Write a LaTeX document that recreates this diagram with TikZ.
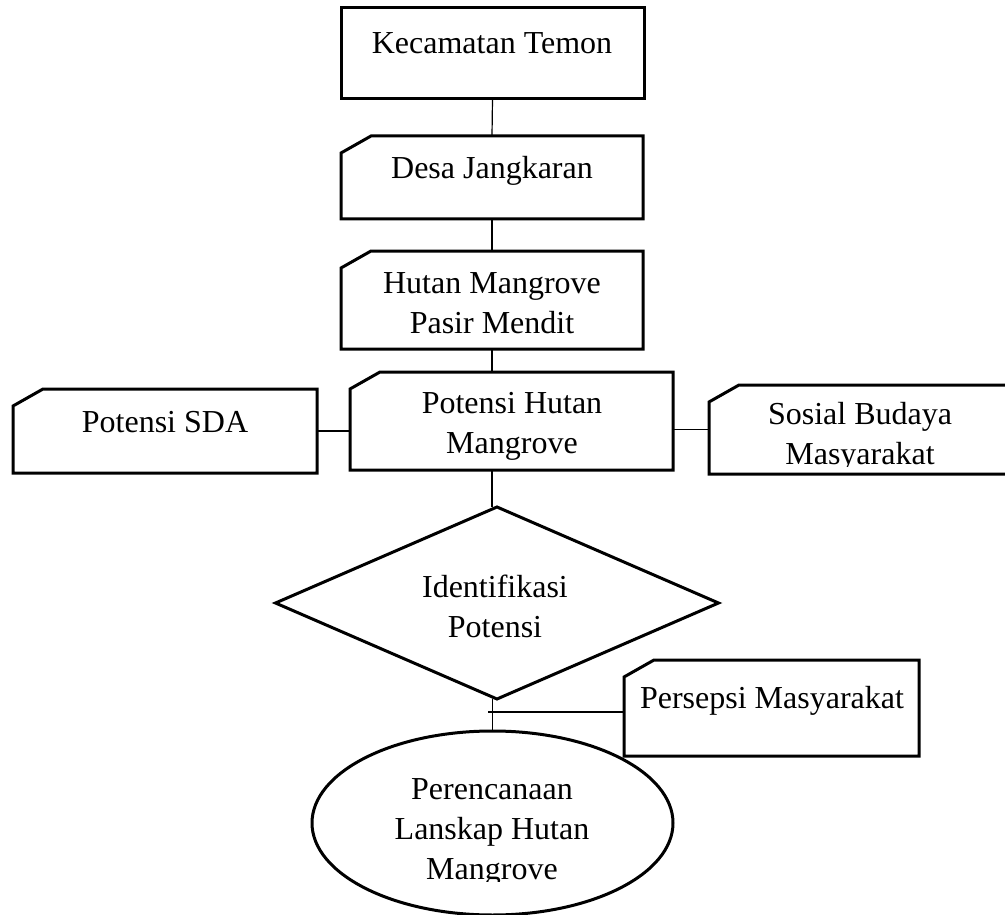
\documentclass[tikz,border=0pt]{standalone}
\usepackage{fontspec}
\setmainfont{Liberation Serif}
\usetikzlibrary{shapes.geometric}
\tikzset{
  shapeline/.style={line width=3pt, line join=miter},
  conn/.style={line width=1.2pt},
  boxarea/.style={rectangle, inner sep=0pt, outer sep=0pt},
  lbl/.style={anchor=base, align=center, inner sep=0pt, font=\fontsize{32}{40}\selectfont},
}
\newcommand\cutoutline[1]{\draw[shapeline] ([yshift=-17pt]#1.north west) -- ([xshift=30pt]#1.north west) -- (#1.north east) -- (#1.south east) -- (#1.south west) -- cycle;}
\begin{document}
\begin{tikzpicture}[x=1pt,y=-1pt]
\useasboundingbox (0,0) rectangle (1005,915);
% boxes
\node[boxarea, shapeline, draw, minimum width=303pt, minimum height=91pt] (k) at (492.5,53.5) {};
\node[boxarea, minimum width=302pt, minimum height=83pt] (d) at (492,177.5) {};
\node[boxarea, minimum width=302pt, minimum height=98pt] (h) at (492,300) {};
\node[boxarea, minimum width=323pt, minimum height=98pt] (p) at (511.5,421) {};
\node[boxarea, minimum width=304pt, minimum height=84pt] (s) at (165,431) {};
\node[boxarea, minimum width=302pt, minimum height=89pt] (so) at (860,429.5) {};
\node[boxarea, minimum width=295pt, minimum height=96pt] (pe) at (771.5,708) {};
\node[diamond, shapeline, draw, inner sep=0pt, outer sep=0pt, minimum width=443pt, minimum height=192pt] (id) at (497,603) {};
\node[ellipse, shapeline, draw, inner sep=0pt, outer sep=0pt, minimum width=361pt, minimum height=184pt] (e) at (492.5,823) {};
\cutoutline{d}
\cutoutline{h}
\cutoutline{p}
\cutoutline{s}
\cutoutline{so}
\cutoutline{pe}
% connectors
\draw[conn] (k.south) -- (d.north);
\draw[conn] (d.south) -- (h.north);
\draw[conn] (h.south) -- (h.south |- p.north);
\draw[conn] (h.south |- p.south) -- (h.south |- id.north);
\draw[conn] (s.east) -- (s.east -| p.west);
\draw[conn] (p.east |- so.west) -- (so.west);
\draw[conn] (id.south -| e.north) -- (e.north);
\coordinate (j) at (488,712);
\draw[conn] (j) -- (j -| pe.west);
% labels (base anchor = baseline of the last line)
\node[lbl] (kt) at (492,54) {Kecamatan Temon};
\node[lbl] (dt) at (492,179) {Desa Jangkaran};
\node[lbl] (ht) at (492,333) {Hutan Mangrove\\Pasir Mendit};
\node[lbl] (pt) at (512,453) {Potensi Hutan\\Mangrove};
\node[lbl] (st) at (165,432) {Potensi SDA};
\begin{scope}
  \clip (700,380) rectangle (1005,466);
  \node[lbl] (sot) at (860,464) {Sosial Budaya\\Masyarakat};
\end{scope}
\node[lbl] (idt) at (495,637) {Identifikasi\\Potensi};
\node[lbl] (pet) at (772,708) {Persepsi Masyarakat};
\begin{scope}
  \clip (310,740) rectangle (680,881);
  \node[lbl] (et) at (492,879) {Perencanaan\\Lanskap Hutan\\Mangrove};
\end{scope}
\end{tikzpicture}
\end{document}
